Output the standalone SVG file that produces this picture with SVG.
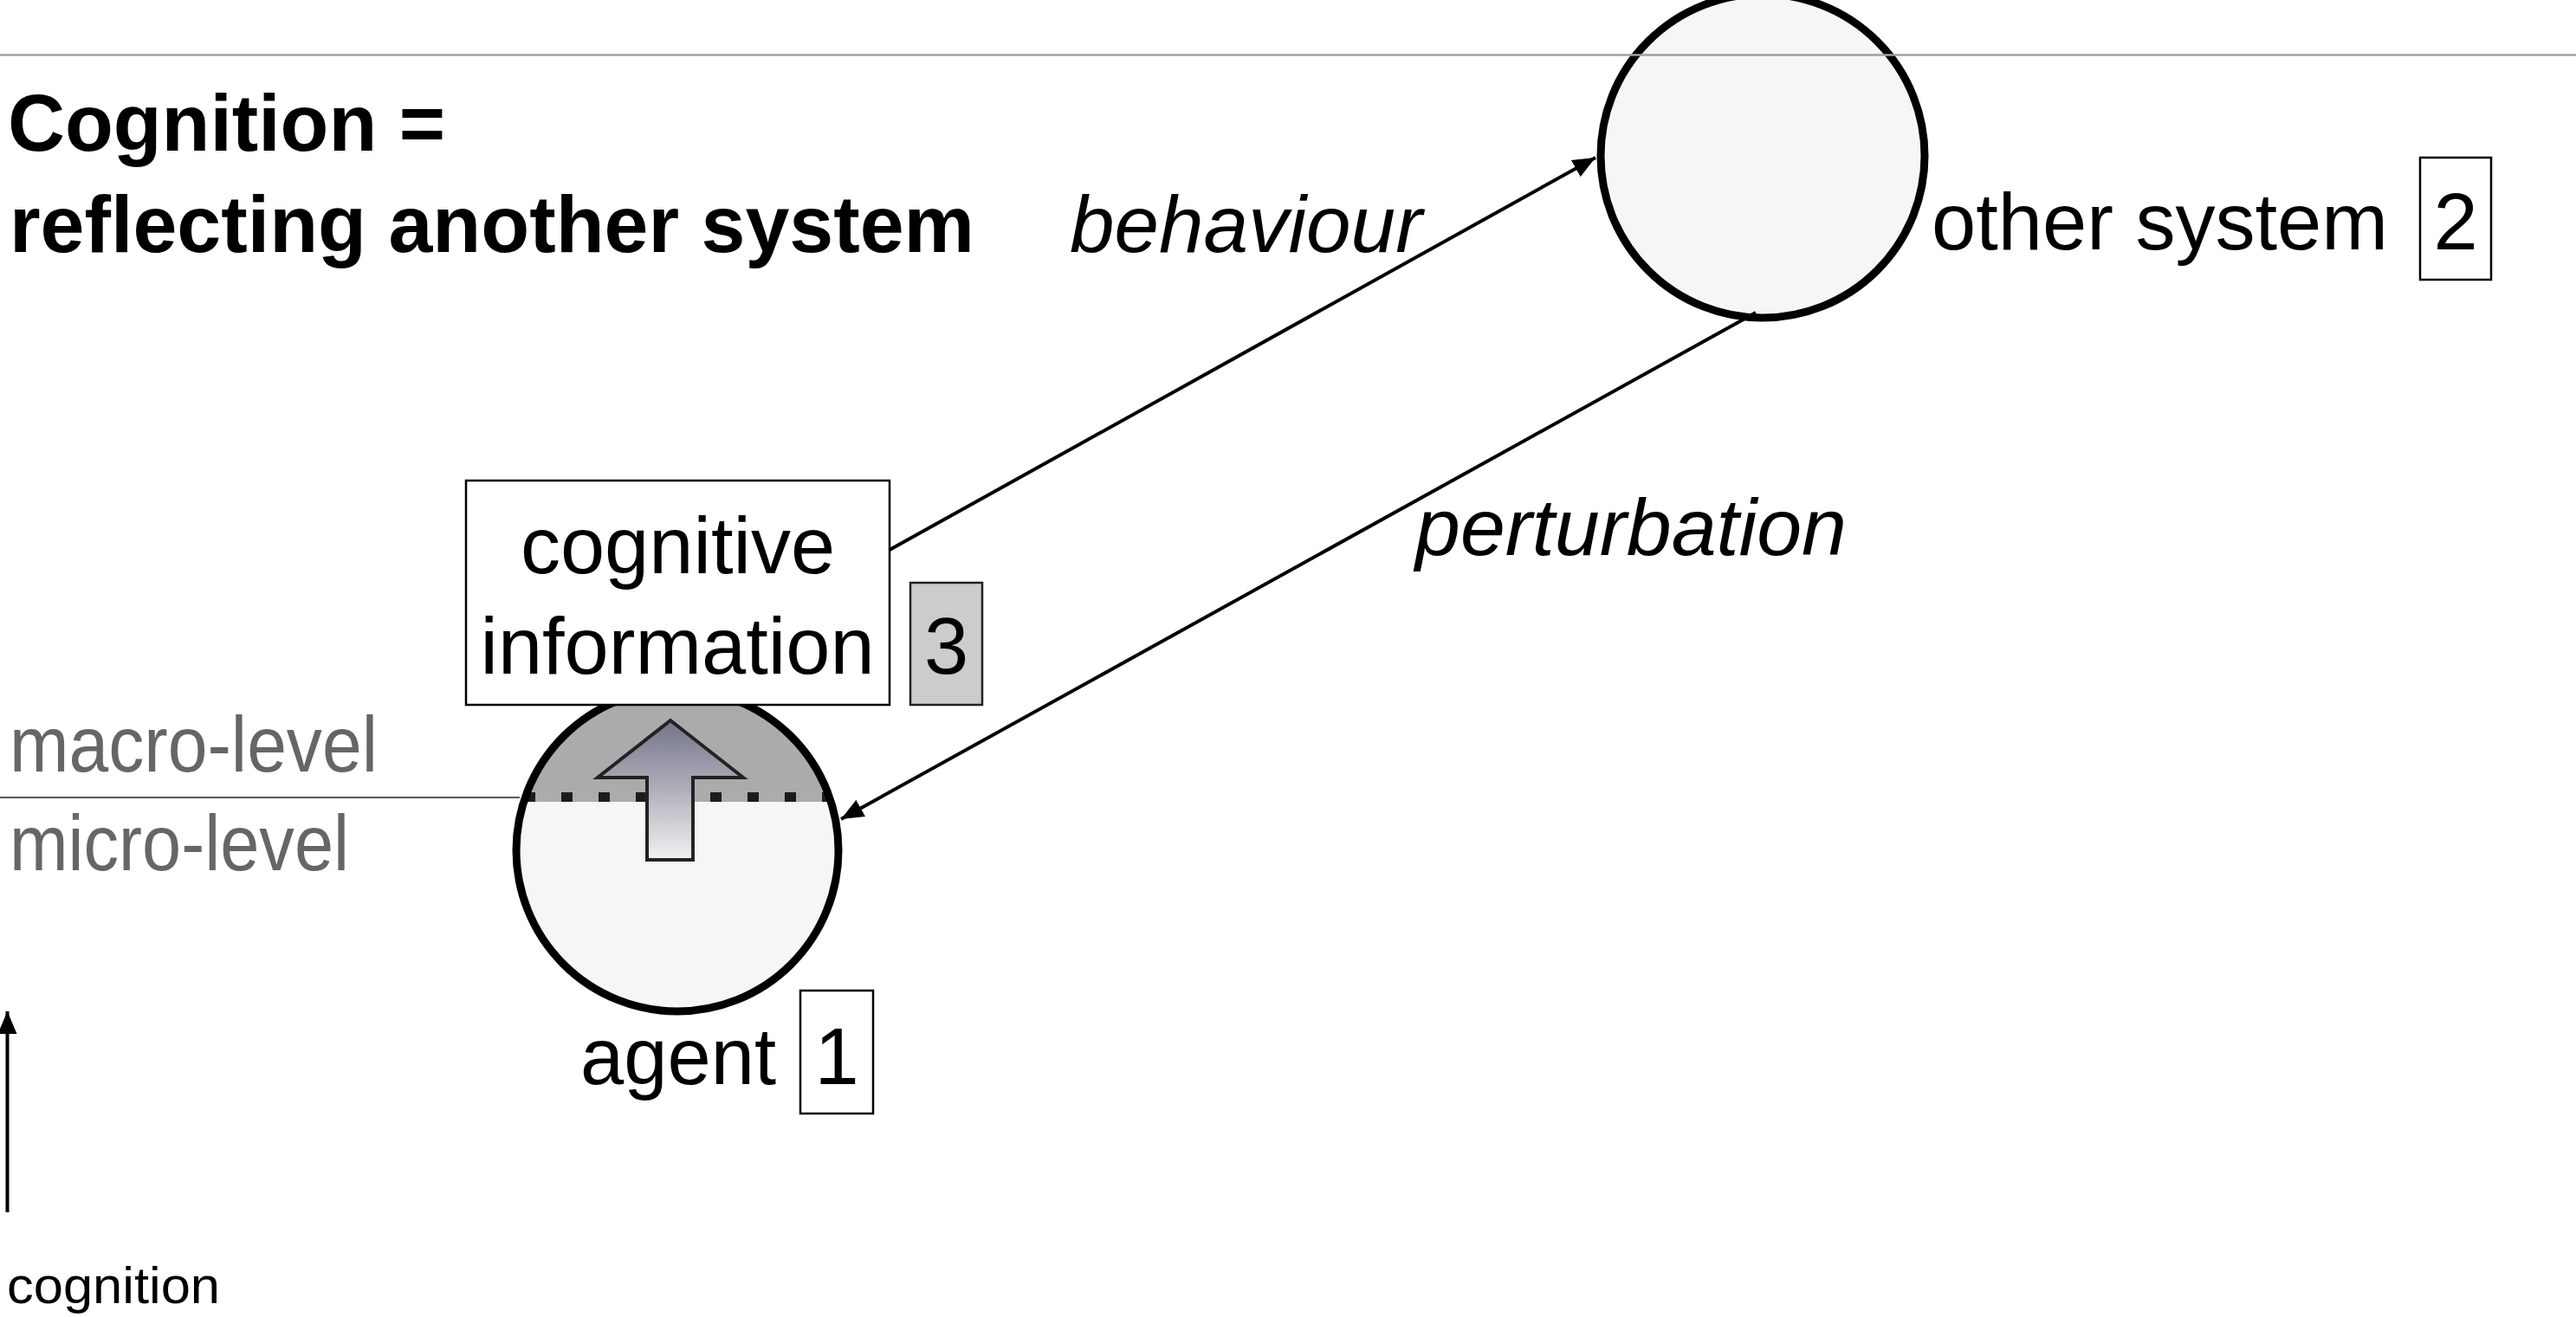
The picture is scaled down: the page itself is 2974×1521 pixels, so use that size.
<svg xmlns="http://www.w3.org/2000/svg" width="2974" height="1521" viewBox="0 0 2974 1521">
<style>
.lbl{font-family:"Liberation Sans",Arial,sans-serif;font-size:92px;fill:#000}
.it{font-style:italic}
.title{font-family:"Liberation Sans",Arial,sans-serif;font-size:92px;font-weight:bold;fill:#000}
.lvl{font-family:"Liberation Sans",Arial,sans-serif;font-size:90px;fill:#666}
.num{fill:#fff;stroke:#000;stroke-width:2.5}
.conn{stroke:#000;stroke-width:4;fill:none}
.sys{fill:#f6f6f6;stroke:#000;stroke-width:9}
</style>
<defs>
<marker id="ah" markerUnits="userSpaceOnUse" markerWidth="26" markerHeight="22" refX="26" refY="11" orient="auto">
<path d="M0,0 L26,11 L0,22 z" fill="#000"/>
</marker>
<linearGradient id="ag" x1="0" y1="0" x2="0" y2="1">
<stop offset="0" stop-color="#74748a"/>
<stop offset="0.5" stop-color="#b0b0bb"/>
<stop offset="1" stop-color="#f2f2f2"/>
</linearGradient>
<clipPath id="agentClip"><circle cx="782" cy="982" r="186"/></clipPath>
</defs>
<rect width="2974" height="1521" fill="#fff"/>

<g id="title">
<text class="title" x="9" y="174" textLength="505" lengthAdjust="spacingAndGlyphs">Cognition =</text>
<text class="title" x="11" y="291" textLength="1114" lengthAdjust="spacingAndGlyphs">reflecting another system</text>
</g>

<g id="other-system">
<circle class="sys" cx="2035" cy="180" r="187"/>
<text class="lbl" x="2230" y="288" textLength="527" lengthAdjust="spacingAndGlyphs">other system</text>
<rect class="num" x="2794" y="182" width="82" height="141"/>
<text class="lbl" x="2835" y="288" text-anchor="middle">2</text>
</g>

<line x1="0" y1="63.5" x2="2974" y2="63.5" stroke="#a0a0a0" stroke-width="2.5"/>

<g id="levels">
<line x1="0" y1="921" x2="600" y2="921" stroke="#222" stroke-width="1.5"/>
<text class="lvl" x="11" y="891" textLength="425" lengthAdjust="spacingAndGlyphs">macro-level</text>
<text class="lvl" x="11" y="1005" textLength="392" lengthAdjust="spacingAndGlyphs">micro-level</text>
</g>

<g id="agent">
<circle cx="782" cy="982" r="186" fill="#f6f6f6"/>
<rect x="590" y="780" width="400" height="146" fill="#ababab" clip-path="url(#agentClip)"/>
<line x1="605" y1="920.5" x2="962" y2="920.5" stroke="#1c1c1c" stroke-width="11" stroke-dasharray="13 30" clip-path="url(#agentClip)"/>
<circle cx="782" cy="982" r="186" fill="none" stroke="#000" stroke-width="9"/>
<polygon points="774,832 858,898 800,898 800,993 747,993 747,898 690,898" fill="url(#ag)" stroke="#222" stroke-width="4"/>
<text class="lbl" x="670" y="1252" textLength="226" lengthAdjust="spacingAndGlyphs">agent</text>
<rect class="num" x="924" y="1144" width="84" height="142"/>
<text class="lbl" x="966" y="1252" text-anchor="middle">1</text>
</g>

<g id="cognitive-information">
<rect x="538" y="555" width="489" height="259" fill="#fff" stroke="#000" stroke-width="2.5"/>
<text class="lbl" x="782.5" y="662" text-anchor="middle">cognitive</text>
<text class="lbl" x="782" y="778" text-anchor="middle">information</text>
<rect x="1051" y="673" width="83" height="141" fill="#cccccc" stroke="#222" stroke-width="2.5"/>
<text class="lbl" x="1092.5" y="778" text-anchor="middle">3</text>
</g>

<g id="connectors">
<line class="conn" x1="1027" y1="635" x2="1842" y2="182" marker-end="url(#ah)"/>
<line class="conn" x1="2027" y1="361" x2="971" y2="946" marker-end="url(#ah)"/>
<line class="conn" x1="8.5" y1="1400" x2="8.5" y2="1168" marker-end="url(#ah)"/>
<text class="lbl it" x="1235" y="291" textLength="407" lengthAdjust="spacingAndGlyphs">behaviour</text>
<text class="lbl it" x="1634" y="641" textLength="498" lengthAdjust="spacingAndGlyphs">perturbation</text>
</g>

<g id="cognition-axis">
<text class="lbl" x="8" y="1505" style="font-size:60px" textLength="246" lengthAdjust="spacingAndGlyphs">cognition</text>
</g>
</svg>
